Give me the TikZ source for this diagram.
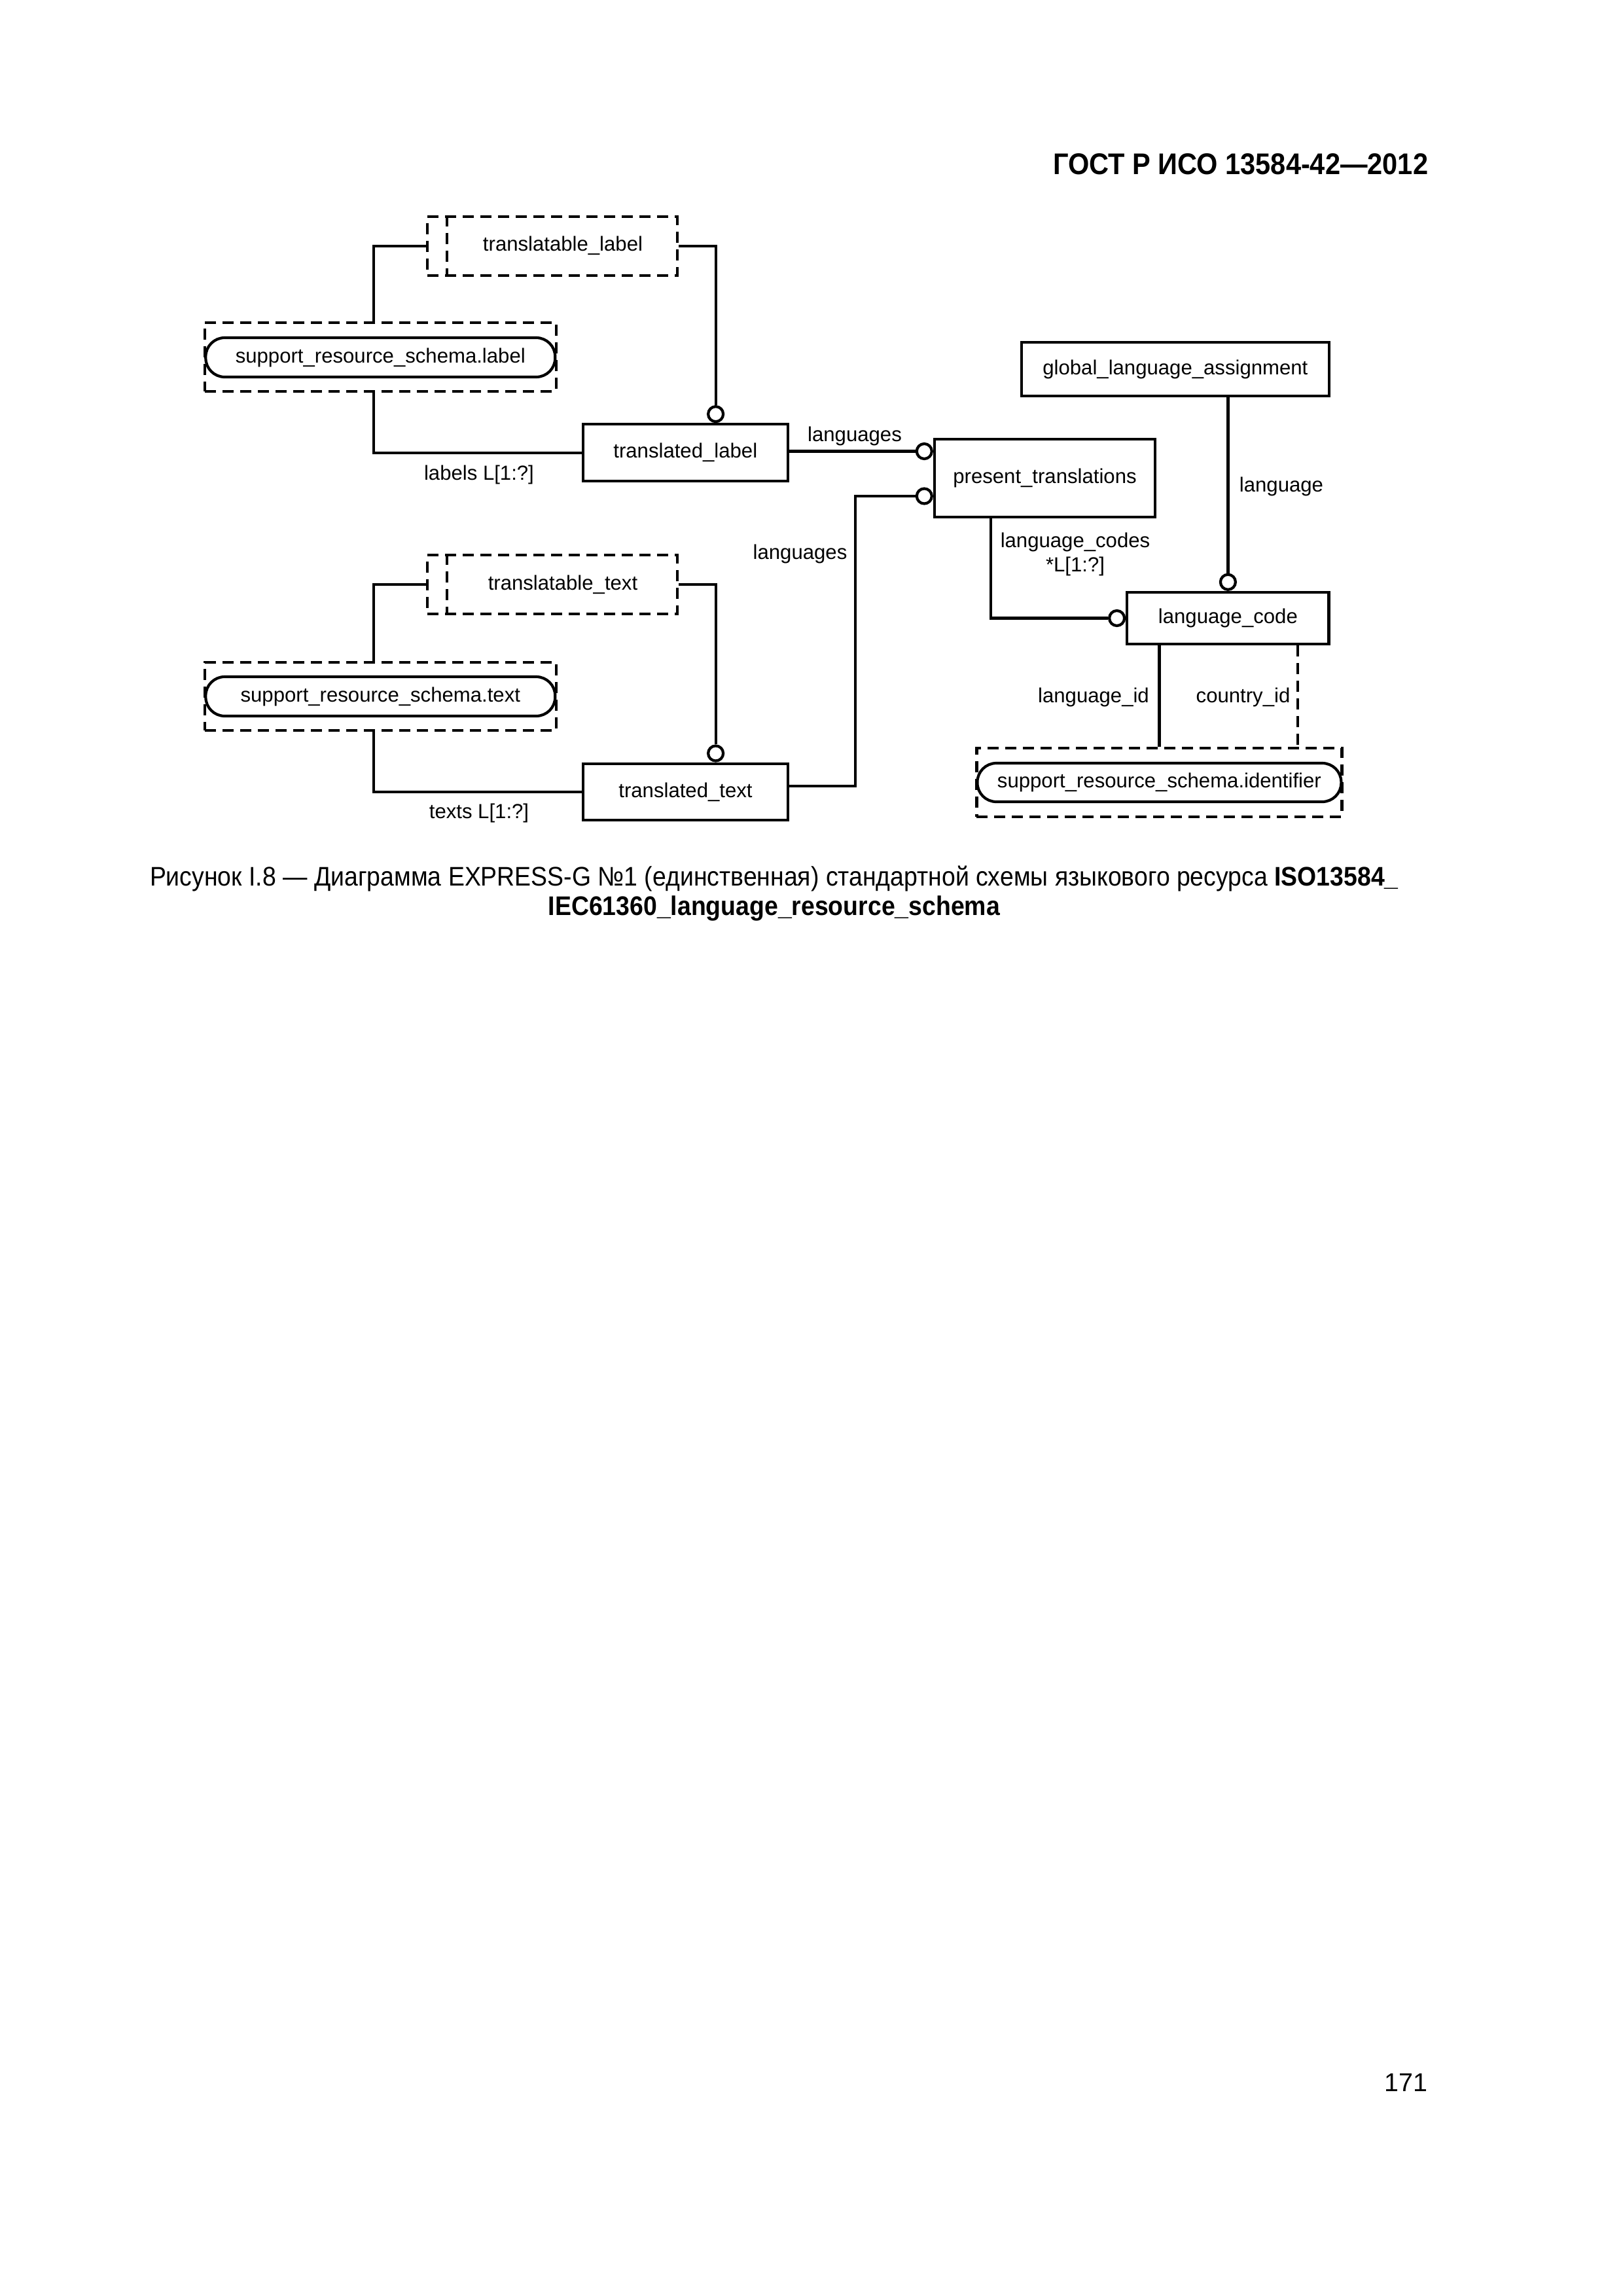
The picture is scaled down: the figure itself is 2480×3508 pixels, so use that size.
\documentclass[tikz,border=0pt]{standalone}
\usepackage{fontspec}
\setmainfont{Liberation Sans}
\newfontfamily\narrowfont[FakeStretch=0.91]{Liberation Sans}
\usetikzlibrary{calc}
\newdimen\pxu \pxu=0.084667mm
\newcommand\dia{\fontsize{7.5}{9}\selectfont}
\tikzset{
  base/.style={line width=4.2\pxu},
  dsh/.style={dash pattern=on 17\pxu off 10\pxu},
  ent/.style={draw, base, rectangle, inner sep=0pt, font=\dia},
  pill/.style={draw, base, rectangle, rounded corners=29\pxu, inner sep=0pt, font=\dia},
  lbl/.style={inner sep=0pt, font=\dia},
  circ/.style={draw, base, circle, fill=white, inner sep=0pt, minimum size=23\pxu},
  conn/.style={base}
}
\begin{document}
\begin{tikzpicture}[x=0.084667mm, y=-0.084667mm]
\useasboundingbox (0,0) rectangle (2480,3508);

% header
\node[inner sep=0pt, anchor=base east, font=\narrowfont\fontsize{11}{13}\selectfont\bfseries] (hdr) at (2183,266.7) {ГОСТ Р ИСО 13584-42—2012};

% junction positions
\coordinate (jx1) at (571.3,0);
\coordinate (jx2) at (1093.6,0);
\coordinate (jx3) at (1513.8,0);
\coordinate (jx4) at (1306.7,0);
\coordinate (jx5) at (1982.6,0);
\coordinate (jy1) at (0,689.5);
\coordinate (jy2) at (0,758);
\coordinate (jy3) at (0,1201);

% translatable_label
\node[ent, dsh, minimum width=382\pxu, minimum height=90\pxu] (tl) at (844,375.7) {};
\draw[base, dsh] ([xshift=32.2\pxu]tl.north west) -- ([xshift=32.2\pxu]tl.south west);
\node[lbl] (tlt) at (860,375.7) {translatable\_label};

% support_resource_schema.label
\node[ent, dsh, minimum width=536.7\pxu, minimum height=105\pxu] (srsl) at (581.3,545.2) {};
\node[pill, minimum width=534\pxu, minimum height=60\pxu] (srslp) at (581.3,546) {support\_resource\_schema.label};

% translated_label
\node[ent, minimum width=312.6\pxu, minimum height=86.7\pxu] (tlab) at (1047.3,691.7) {translated\_label};

% translatable_text
\node[ent, dsh, minimum width=382\pxu, minimum height=90\pxu] (ttx) at (844,893.3) {};
\draw[base, dsh] ([xshift=32.2\pxu]ttx.north west) -- ([xshift=32.2\pxu]ttx.south west);
\node[lbl] (ttxt) at (860,893.3) {translatable\_text};

% support_resource_schema.text
\node[ent, dsh, minimum width=536.7\pxu, minimum height=104.3\pxu] (srst) at (581.3,1063.8) {};
\node[pill, minimum width=534\pxu, minimum height=60\pxu] (srstp) at (581.3,1064) {support\_resource\_schema.text};

% translated_text
\node[ent, minimum width=313\pxu, minimum height=86.6\pxu] (tt) at (1047.5,1210) {translated\_text};

% present_translations
\node[ent, minimum width=337\pxu, minimum height=119.3\pxu] (pt) at (1596.5,730.3) {present\_translations};

% global_language_assignment
\node[ent, minimum width=469.7\pxu, minimum height=81.7\pxu] (gla) at (1795.9,564.2) {global\_language\_assignment};

% language_code
\node[ent, minimum width=308.2\pxu, minimum height=79\pxu] (lc) at (1876.4,944.5) {language\_code};

% support_resource_schema.identifier
\node[ent, dsh, minimum width=558\pxu, minimum height=105.6\pxu] (srsi) at (1771.4,1195.5) {};
\node[pill, minimum width=556\pxu, minimum height=59\pxu] (srsip) at (1771.4,1195.5) {support\_resource\_schema.identifier};

% circles
\node[circ, anchor=south] (c1) at (tlab.north -| jx2) {};
\node[circ, anchor=south] (c4) at (tt.north -| jx2) {};
\node[circ, anchor=east] (c2) at (pt.west |- jy1) {};
\node[circ, anchor=east] (c3) at (pt.west |- jy2) {};
\node[circ, anchor=south] (c5) at (lc.north) {};
\node[circ, anchor=east] (c6) at (lc.west) {};

% connectors
\draw[conn] (tl.west) -| (srsl.north -| jx1);
\draw[conn] (srsl.south -| jx1) |- (tlab.west);
\draw[conn] (tl.east) -| (c1.north);
\draw[conn] (ttx.west) -| (srst.north -| jx1);
\draw[conn] (srst.south -| jx1) |- (tt.west);
\draw[conn] (ttx.east) -| (c4.north);
\draw[conn] (c2.west -| tlab.east) -- (c2.west);
\draw[conn] (tt.east |- jy3) -| (jx4 |- c3.west) -- (c3.west);
\draw[conn] (gla.south -| c5.north) -- (c5.north);
\draw[conn] (pt.south -| jx3) |- (c6.west);
\draw[conn] (lc.south -| srsi.north) -- (srsi.north);
\draw[conn, dsh] (lc.south -| jx5) -- (srsi.north -| jx5);

% labels
\node[lbl] (l1) at (732,725) {labels L[1:?]};
\node[lbl] (l2) at (732,1242) {texts L[1:?]};
\node[lbl] (l3) at (1306,666.7) {languages};
\node[lbl] (l4) at (1222.5,846.7) {languages};
\node[lbl] (l5) at (1958,743) {language};
\node[lbl, align=center] (l6) at (1643,847) {language\_codes\\*L[1:?]};
\node[lbl] (l7) at (1671,1065) {language\_id};
\node[lbl] (l8) at (1899.5,1065) {country\_id};

% caption
\node[inner sep=0pt, align=center, font=\narrowfont\fontsize{9.9}{10.8}\selectfont] (cap) at (1183,1365.5)
  {Рисунок I.8 — Диаграмма EXPRESS-G №1 (единственная) стандартной схемы языкового ресурса \textbf{ISO13584\_}\\\textbf{IEC61360\_language\_resource\_schema}};

% page number
\node[inner sep=0pt, anchor=base east, font=\fontsize{9.5}{12}\selectfont] (pg) at (2182,3195) {171};
\end{tikzpicture}
\end{document}
